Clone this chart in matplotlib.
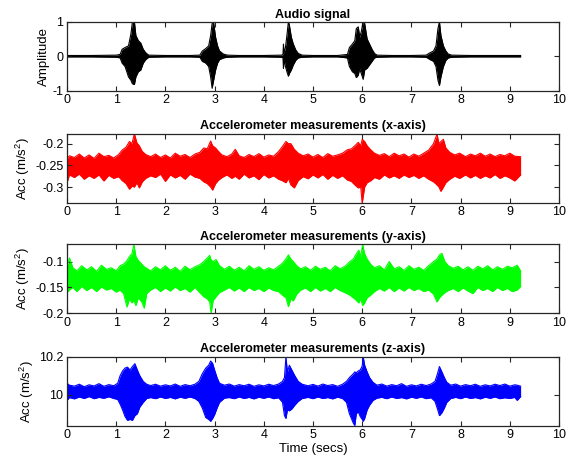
import matplotlib
matplotlib.use('Agg')
import matplotlib.pyplot as plt

plt.rcParams['font.family'] = ['Liberation Sans', 'DejaVu Sans']
plt.rcParams['mathtext.fontset'] = 'custom'
plt.rcParams['mathtext.rm'] = 'Liberation Sans'
plt.rcParams['mathtext.it'] = 'Liberation Sans:italic'

# audio signal envelope (upper / lower)
t_audio = [0, 0.5, 1.0, 1.08, 1.12, 1.18, 1.25, 1.3, 1.33, 1.37, 1.4, 1.45, 1.5, 1.55, 1.6, 1.66,
           2.0, 2.5, 2.7, 2.75, 2.82, 2.88, 2.92, 2.95, 2.98, 3.02, 3.06, 3.1, 3.18, 3.26,
           3.5, 4.0, 4.36, 4.39, 4.40, 4.41, 4.44, 4.47, 4.50, 4.52, 4.56, 4.6, 4.65, 4.7, 4.78,
           5.0, 5.5, 5.7, 5.74, 5.8, 5.85, 5.88, 5.92, 5.95, 5.98, 6.02, 6.05, 6.1, 6.15, 6.2, 6.25, 6.3,
           6.6, 7.0, 7.3, 7.38, 7.45, 7.5, 7.54, 7.57, 7.6, 7.65, 7.7, 7.75, 7.82, 8.2, 8.8, 9.22]
audio_hi = [0.02, 0.02, 0.03, 0.05, 0.2, 0.25, 0.3, 0.65, 1.0, 1.0, 0.6, 0.45, 0.38, 0.2, 0.1, 0.03,
            0.02, 0.02, 0.03, 0.15, 0.22, 0.3, 0.6, 0.95, 0.98, 0.55, 0.3, 0.15, 0.06, 0.03,
            0.02, 0.02, 0.03, 0.05, 0.35, 0.08, 0.25, 0.6, 1.0, 0.9, 0.55, 0.35, 0.18, 0.08, 0.03,
            0.02, 0.02, 0.05, 0.25, 0.35, 0.45, 0.8, 0.85, 0.55, 0.7, 1.0, 0.95, 0.5, 0.35, 0.2, 0.08, 0.03,
            0.02, 0.02, 0.03, 0.1, 0.15, 0.3, 0.8, 1.0, 0.6, 0.3, 0.15, 0.06, 0.03, 0.02, 0.02, 0.02]
audio_lo = [-0.02, -0.02, -0.03, -0.05, -0.2, -0.3, -0.6, -0.7, -0.8, -0.82, -0.6, -0.45, -0.4, -0.2, -0.1, -0.03,
            -0.02, -0.02, -0.03, -0.15, -0.2, -0.3, -0.6, -0.93, -0.7, -0.4, -0.2, -0.1, -0.05, -0.03,
            -0.02, -0.02, -0.03, -0.05, -0.35, -0.08, -0.3, -0.45, -0.58, -0.5, -0.4, -0.25, -0.12, -0.05, -0.03,
            -0.02, -0.02, -0.05, -0.3, -0.45, -0.5, -0.62, -0.55, -0.35, -0.5, -0.67, -0.4, -0.35, -0.25, -0.15, -0.05, -0.03,
            -0.02, -0.02, -0.03, -0.1, -0.15, -0.3, -0.7, -0.85, -0.6, -0.3, -0.12, -0.05, -0.03, -0.02, -0.02, -0.02]

# accelerometer x-axis
t_accx = [0.0, 0.05, 0.15, 0.25, 0.35, 0.45, 0.55, 0.65, 0.75, 0.85, 0.95, 1.05, 1.12, 1.2, 1.27, 1.32,
          1.37, 1.42, 1.47, 1.53, 1.6, 1.7, 1.8, 1.9, 2.0, 2.1, 2.2, 2.3, 2.4, 2.5, 2.6, 2.7, 2.78,
          2.85, 2.92, 2.96, 3.02, 3.08, 3.15, 3.25, 3.35, 3.42, 3.5, 3.6, 3.7, 3.8, 3.9, 4.0, 4.1,
          4.2, 4.3, 4.37, 4.45, 4.5, 4.55, 4.62, 4.7, 4.8, 4.9, 5.0, 5.1, 5.2, 5.3, 5.4, 5.5, 5.6,
          5.7, 5.78, 5.85, 5.92, 5.97, 6.0, 6.05, 6.1, 6.18, 6.25, 6.35, 6.45, 6.55, 6.65, 6.75, 6.85,
          6.95, 7.05, 7.15, 7.25, 7.35, 7.45, 7.52, 7.56, 7.6, 7.65, 7.7, 7.78, 7.88, 7.98, 8.1, 8.2,
          8.3, 8.4, 8.5, 8.6, 8.7, 8.8, 8.9, 9.0, 9.1, 9.22]
accx_hi = [-0.235, -0.228, -0.232, -0.224, -0.233, -0.226, -0.234, -0.222, -0.23, -0.227, -0.233, -0.225,
           -0.215, -0.208, -0.195, -0.2, -0.177, -0.198, -0.205, -0.218, -0.225, -0.23, -0.224, -0.232,
           -0.226, -0.233, -0.222, -0.229, -0.225, -0.232, -0.224, -0.22, -0.21, -0.212, -0.194, -0.205,
           -0.21, -0.218, -0.226, -0.23, -0.224, -0.213, -0.228, -0.232, -0.225, -0.23, -0.223, -0.231,
           -0.226, -0.229, -0.218, -0.208, -0.195, -0.2, -0.2, -0.213, -0.222, -0.228, -0.224, -0.231,
           -0.225, -0.232, -0.223, -0.229, -0.226, -0.222, -0.214, -0.212, -0.205, -0.197, -0.205, -0.19,
           -0.195, -0.205, -0.215, -0.222, -0.227, -0.223, -0.23, -0.222, -0.228, -0.224, -0.231, -0.224,
           -0.229, -0.222, -0.215, -0.2, -0.178, -0.2, -0.195, -0.19, -0.21, -0.22, -0.226, -0.222, -0.23,
           -0.224, -0.228, -0.222, -0.229, -0.224, -0.23, -0.225, -0.228, -0.222, -0.229, -0.23]
accx_lo = [-0.29, -0.272, -0.278, -0.27, -0.282, -0.274, -0.28, -0.272, -0.286, -0.273, -0.28, -0.276,
           -0.285, -0.292, -0.305, -0.298, -0.3, -0.29, -0.302, -0.288, -0.28, -0.274, -0.278, -0.27,
           -0.287, -0.272, -0.279, -0.273, -0.282, -0.27, -0.277, -0.28, -0.288, -0.292, -0.3, -0.307,
           -0.292, -0.284, -0.278, -0.272, -0.28, -0.275, -0.282, -0.27, -0.279, -0.274, -0.283, -0.271,
           -0.279, -0.274, -0.282, -0.285, -0.29, -0.28, -0.295, -0.302, -0.285, -0.276, -0.281, -0.272,
           -0.279, -0.271, -0.282, -0.273, -0.28, -0.274, -0.284, -0.287, -0.295, -0.302, -0.3, -0.337,
           -0.3, -0.29, -0.285, -0.278, -0.282, -0.272, -0.279, -0.274, -0.28, -0.272, -0.278, -0.273,
           -0.28, -0.274, -0.282, -0.288, -0.295, -0.3, -0.31, -0.3, -0.29, -0.282, -0.275, -0.28, -0.272,
           -0.279, -0.273, -0.28, -0.274, -0.279, -0.271, -0.28, -0.274, -0.279, -0.286, -0.272]

# accelerometer y-axis
t_accy = [0.0, 0.05, 0.12, 0.2, 0.3, 0.4, 0.5, 0.6, 0.7, 0.8, 0.9, 1.0, 1.08, 1.15, 1.22, 1.27, 1.32,
          1.36, 1.4, 1.45, 1.52, 1.57, 1.62, 1.7, 1.8, 1.9, 2.0, 2.1, 2.2, 2.3, 2.4, 2.5, 2.6, 2.7,
          2.78, 2.85, 2.9, 2.93, 2.97, 3.03, 3.1, 3.2, 3.3, 3.4, 3.5, 3.6, 3.7, 3.8, 3.9, 4.0, 4.1,
          4.2, 4.3, 4.38, 4.45, 4.5, 4.55, 4.6, 4.67, 4.75, 4.85, 4.95, 5.05, 5.15, 5.25, 5.35, 5.45,
          5.55, 5.65, 5.75, 5.82, 5.88, 5.93, 5.97, 6.01, 6.05, 6.1, 6.17, 6.25, 6.35, 6.45, 6.55, 6.65,
          6.75, 6.85, 6.95, 7.05, 7.15, 7.25, 7.35, 7.45, 7.52, 7.57, 7.62, 7.68, 7.75, 7.85, 7.95,
          8.05, 8.15, 8.25, 8.35, 8.45, 8.55, 8.65, 8.75, 8.85, 8.95, 9.05, 9.15, 9.22]
accy_hi = [-0.11, -0.093, -0.112, -0.118, -0.108, -0.116, -0.11, -0.119, -0.107, -0.115, -0.112, -0.118,
           -0.108, -0.105, -0.098, -0.09, -0.085, -0.067, -0.09, -0.098, -0.105, -0.11, -0.113, -0.118,
           -0.11, -0.116, -0.108, -0.117, -0.111, -0.119, -0.109, -0.116, -0.11, -0.106, -0.1, -0.093,
           -0.088, -0.097, -0.1, -0.096, -0.108, -0.115, -0.109, -0.117, -0.111, -0.118, -0.108, -0.115,
           -0.11, -0.117, -0.112, -0.116, -0.109, -0.103, -0.095, -0.087, -0.095, -0.1, -0.108, -0.114,
           -0.11, -0.117, -0.109, -0.115, -0.111, -0.118, -0.108, -0.114, -0.109, -0.1, -0.095, -0.085,
           -0.078, -0.09, -0.067, -0.085, -0.095, -0.105, -0.112, -0.108, -0.116, -0.1, -0.114, -0.11,
           -0.117, -0.108, -0.115, -0.111, -0.117, -0.108, -0.1, -0.095, -0.087, -0.084, -0.1, -0.108,
           -0.113, -0.109, -0.116, -0.11, -0.117, -0.109, -0.114, -0.108, -0.116, -0.11, -0.115, -0.109,
           -0.112, -0.107, -0.118]
accy_lo = [-0.16, -0.155, -0.15, -0.158, -0.148, -0.156, -0.15, -0.158, -0.149, -0.155, -0.152, -0.159,
           -0.155, -0.162, -0.188, -0.172, -0.18, -0.175, -0.185, -0.17, -0.178, -0.19, -0.162, -0.155,
           -0.15, -0.158, -0.151, -0.157, -0.149, -0.156, -0.152, -0.159, -0.15, -0.16, -0.168, -0.172,
           -0.178, -0.2, -0.175, -0.168, -0.16, -0.155, -0.15, -0.157, -0.151, -0.158, -0.15, -0.156,
           -0.152, -0.158, -0.151, -0.156, -0.158, -0.165, -0.17, -0.187, -0.172, -0.176, -0.163, -0.155,
           -0.151, -0.158, -0.15, -0.157, -0.152, -0.158, -0.15, -0.156, -0.16, -0.165, -0.17, -0.175,
           -0.18, -0.172, -0.185, -0.18, -0.17, -0.165, -0.158, -0.152, -0.157, -0.15, -0.158, -0.151,
           -0.157, -0.15, -0.156, -0.152, -0.158, -0.155, -0.163, -0.178, -0.17, -0.165, -0.16, -0.156,
           -0.152, -0.158, -0.151, -0.157, -0.162, -0.15, -0.156, -0.152, -0.158, -0.15, -0.156, -0.152,
           -0.158, -0.155, -0.148]

# accelerometer z-axis
t_accz = [0.0, 0.05, 0.15, 0.25, 0.35, 0.45, 0.55, 0.65, 0.75, 0.85, 0.95, 1.03, 1.08, 1.13, 1.18,
          1.23, 1.28, 1.33, 1.38, 1.43, 1.48, 1.55, 1.62, 1.7, 1.8, 1.9, 2.0, 2.1, 2.2, 2.3, 2.4,
          2.5, 2.6, 2.68, 2.75, 2.82, 2.88, 2.92, 2.96, 3.0, 3.05, 3.1, 3.2, 3.3, 3.4, 3.5, 3.6, 3.7,
          3.8, 3.9, 4.0, 4.1, 4.2, 4.3, 4.38, 4.42, 4.45, 4.48, 4.52, 4.57, 4.63, 4.7, 4.78, 4.9,
          5.0, 5.1, 5.2, 5.3, 5.4, 5.5, 5.6, 5.68, 5.74, 5.78, 5.82, 5.85, 5.88, 5.92, 5.96, 6.0,
          6.02, 6.05, 6.1, 6.15, 6.22, 6.3, 6.4, 6.5, 6.6, 6.7, 6.8, 6.9, 7.0, 7.1, 7.2, 7.3, 7.4,
          7.48, 7.53, 7.57, 7.62, 7.67, 7.72, 7.8, 7.9, 8.0, 8.1, 8.2, 8.3, 8.4, 8.5, 8.6, 8.7,
          8.8, 8.9, 9.0, 9.1, 9.15, 9.22]
accz_hi = [10.06, 10.05, 10.045, 10.055, 10.042, 10.052, 10.046, 10.058, 10.044, 10.053, 10.047, 10.06,
           10.1, 10.125, 10.14, 10.145, 10.13, 10.148, 10.163, 10.13, 10.1, 10.07, 10.055, 10.048,
           10.055, 10.045, 10.052, 10.046, 10.056, 10.044, 10.053, 10.047, 10.055, 10.07, 10.11, 10.14,
           10.155, 10.177, 10.165, 10.13, 10.09, 10.06, 10.05, 10.056, 10.045, 10.053, 10.047, 10.055,
           10.044, 10.052, 10.046, 10.055, 10.048, 10.056, 10.07, 10.09, 10.2, 10.12, 10.155, 10.13,
           10.1, 10.07, 10.055, 10.047, 10.054, 10.045, 10.056, 10.048, 10.053, 10.044, 10.055, 10.07,
           10.09, 10.1, 10.11, 10.12, 10.115, 10.125, 10.13, 10.15, 10.2, 10.155, 10.12, 10.09, 10.065,
           10.05, 10.056, 10.045, 10.053, 10.047, 10.058, 10.044, 10.052, 10.046, 10.055, 10.048,
           10.056, 10.07, 10.11, 10.148, 10.12, 10.09, 10.065, 10.05, 10.056, 10.045, 10.053, 10.047,
           10.055, 10.044, 10.052, 10.046, 10.055, 10.048, 10.056, 10.045, 10.052, 10.05, 10.045]
accz_lo = [9.97, 9.985, 9.978, 9.988, 9.98, 9.99, 9.979, 9.986, 9.981, 9.989, 9.98, 9.975,
           9.95, 9.92, 9.885, 9.865, 9.87, 9.865, 9.89, 9.9, 9.935, 9.96, 9.98, 9.985,
           9.979, 9.988, 9.98, 9.986, 9.978, 9.987, 9.981, 9.988, 9.98, 9.965, 9.93, 9.88,
           9.87, 9.86, 9.875, 9.895, 9.93, 9.96, 9.982, 9.985, 9.979, 9.988, 9.98, 9.986,
           9.978, 9.987, 9.981, 9.988, 9.979, 9.984, 9.96, 9.89, 9.875, 9.92, 9.915, 9.925,
           9.945, 9.965, 9.98, 9.986, 9.979, 9.988, 9.98, 9.985, 9.978, 9.987, 9.98, 9.96,
           9.9, 9.875, 9.85, 9.838, 9.9, 9.91, 9.885, 9.87, 9.86, 9.875, 9.92, 9.945, 9.97,
           9.982, 9.986, 9.979, 9.988, 9.98, 9.985, 9.978, 9.987, 9.981, 9.988, 9.979,
           9.984, 9.965, 9.925, 9.89, 9.905, 9.93, 9.96, 9.98, 9.986, 9.979, 9.988, 9.98,
           9.985, 9.978, 9.987, 9.981, 9.988, 9.979, 9.984, 9.98, 9.986, 9.97, 9.99]

x_ticks = [0, 1, 2, 3, 4, 5, 6, 7, 8, 9, 10]
titles = ['Audio signal',
          'Accelerometer measurements (x-axis)',
          'Accelerometer measurements (y-axis)',
          'Accelerometer measurements (z-axis)']
ylabels = ['Amplitude', 'Acc (m/s$^2$)', 'Acc (m/s$^2$)', 'Acc (m/s$^2$)']

fig = plt.figure(figsize=(5.77, 4.62), dpi=100)
axc = '#262626'

panels = [
    # (bottom, t, hi, lo, colour, ylim, yticks, yticklabels)
    (0.8037, t_audio, audio_hi, audio_lo, 'k', (-1, 1), [-1, 0, 1], ['-1', '0', '1']),
    (0.5613, t_accx, accx_hi, accx_lo, (1, 0, 0), (-0.336, -0.177), [-0.3, -0.25, -0.2], ['-0.3', '-0.25', '-0.2']),
    (0.3219, t_accy, accy_hi, accy_lo, (0, 1, 0), (-0.2, -0.0665), [-0.2, -0.15, -0.1], ['-0.2', '-0.15', '-0.1']),
    (0.0786, t_accz, accz_hi, accz_lo, (0, 0, 1), (9.837, 10.2), [10, 10.2], ['10', '10.2']),
]

for i, (bot, t, hi, lo, col, ylim, yt, ytl) in enumerate(panels):
    ax = fig.add_axes([0.1161, bot, 0.8527, 0.1494])
    ax.fill_between(t, lo, hi, color=col, linewidth=0)
    ax.plot(t, hi, color=col, linewidth=0.8)
    ax.plot(t, lo, color=col, linewidth=0.8)
    ax.set_xlim(0, 10)
    ax.set_ylim(*ylim)
    ax.set_xticks(x_ticks)
    ax.set_yticks(yt)
    ax.set_yticklabels(ytl)
    ax.tick_params(direction='in', top=True, right=True, labelsize=9, length=3.5,
                   width=0.8, colors=axc, labelcolor='k', pad=2.5)
    for s in ax.spines.values():
        s.set_color(axc)
        s.set_linewidth(0.9)
    ax.set_title(titles[i], fontsize=9, fontweight='bold', pad=3)
    ax.set_ylabel(ylabels[i], fontsize=9.5, labelpad=2)
    if i == 3:
        ax.set_xlabel('Time (secs)', fontsize=9.5, labelpad=1)

fig.savefig('out.png', dpi=100)
